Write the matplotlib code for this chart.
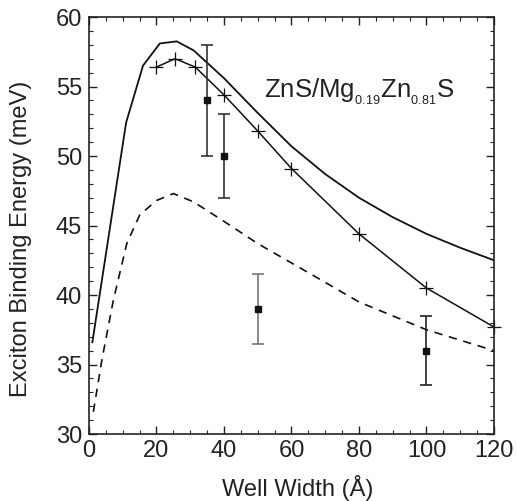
import matplotlib
matplotlib.use('Agg')
import matplotlib.pyplot as plt
from matplotlib.ticker import MultipleLocator

# upper solid curve
solid_x = [1, 11, 16, 21, 26, 31, 40, 50, 60, 70, 80, 90, 100, 110, 120]
solid_y = [36.6, 52.4, 56.5, 58.1, 58.25, 57.6, 55.6, 53.1, 50.7, 48.7,
           47.0, 45.6, 44.4, 43.4, 42.5]

# curve with crosses
cross_x = [20, 25.5, 31.5, 40, 50, 60, 80, 100, 120]
cross_y = [56.4, 57.0, 56.4, 54.4, 51.8, 49.1, 44.4, 40.5, 37.7]

# lower dashed curve
dash_x = [1.3, 3.8, 7.2, 11.2, 15, 20, 25, 31, 40, 50, 66.5, 80, 100, 120]
dash_y = [31.6, 35.3, 39.6, 43.7, 45.75, 46.8, 47.3, 46.7, 45.3, 43.7,
          41.4, 39.5, 37.5, 36.0]

# measured points
meas_x = [35, 40, 50, 100]
meas_y = [54, 50, 39, 36]
meas_err = [4, 3, 2.5, 2.5]
meas_col = ['#333333', '#333333', '#777777', '#222222']

plt.rcParams['font.family'] = ['Liberation Sans', 'DejaVu Sans']
plt.rcParams['mathtext.fontset'] = 'custom'
plt.rcParams['mathtext.rm'] = 'Liberation Sans'
plt.rcParams['mathtext.it'] = 'Liberation Sans:italic'

fig = plt.figure(figsize=(5.17, 5.01), dpi=100)
ax = fig.add_axes([0.1721, 0.1337, 0.7834, 0.8323])

ax.plot(solid_x, solid_y, color='#111111', lw=1.3)
ax.plot(cross_x, cross_y, color='#111111', lw=1.1, marker='+',
        markersize=10, markeredgewidth=0.9, clip_on=False)
ax.plot(dash_x, dash_y, color='#111111', lw=1.2, dashes=(5, 4))

for x, y, e, c in zip(meas_x, meas_y, meas_err, meas_col):
    ax.errorbar(x, y, yerr=e, fmt='s', color='#111111', ecolor=c,
                markersize=5, capsize=4, elinewidth=1.2, capthick=1.2)

ax.text(52.0, 54.17, 'ZnS/Mg$_{_{0.19}}$Zn$_{_{0.81}}$S', fontsize=18.5,
        va='baseline', ha='left', color='#222222')

ax.set_xlim(0, 120)
ax.set_ylim(30, 60)
ax.xaxis.set_major_locator(MultipleLocator(20))
ax.xaxis.set_minor_locator(MultipleLocator(5))
ax.yaxis.set_major_locator(MultipleLocator(5))
ax.yaxis.set_minor_locator(MultipleLocator(1))
ax.tick_params(which='both', direction='in', top=True, right=True,
               labelsize=17, colors='#222222')
ax.tick_params(which='major', length=6, width=1)
ax.tick_params(which='minor', length=3, width=0.8)
ax.tick_params(axis='x', pad=4)
ax.tick_params(axis='y', pad=5)
for s in ax.spines.values():
    s.set_linewidth(1.2)
    s.set_color('#222222')

ax.set_xlabel('Well Width (Å)', fontsize=17, color='#222222', va='top')
ax.set_ylabel('Exciton Binding Energy (meV)', fontsize=17, color='#222222')
ax.xaxis.set_label_coords(0.516, -0.098)
ax.yaxis.set_label_coords(-0.141, 0.468)

fig.savefig('out.png', dpi=100)
